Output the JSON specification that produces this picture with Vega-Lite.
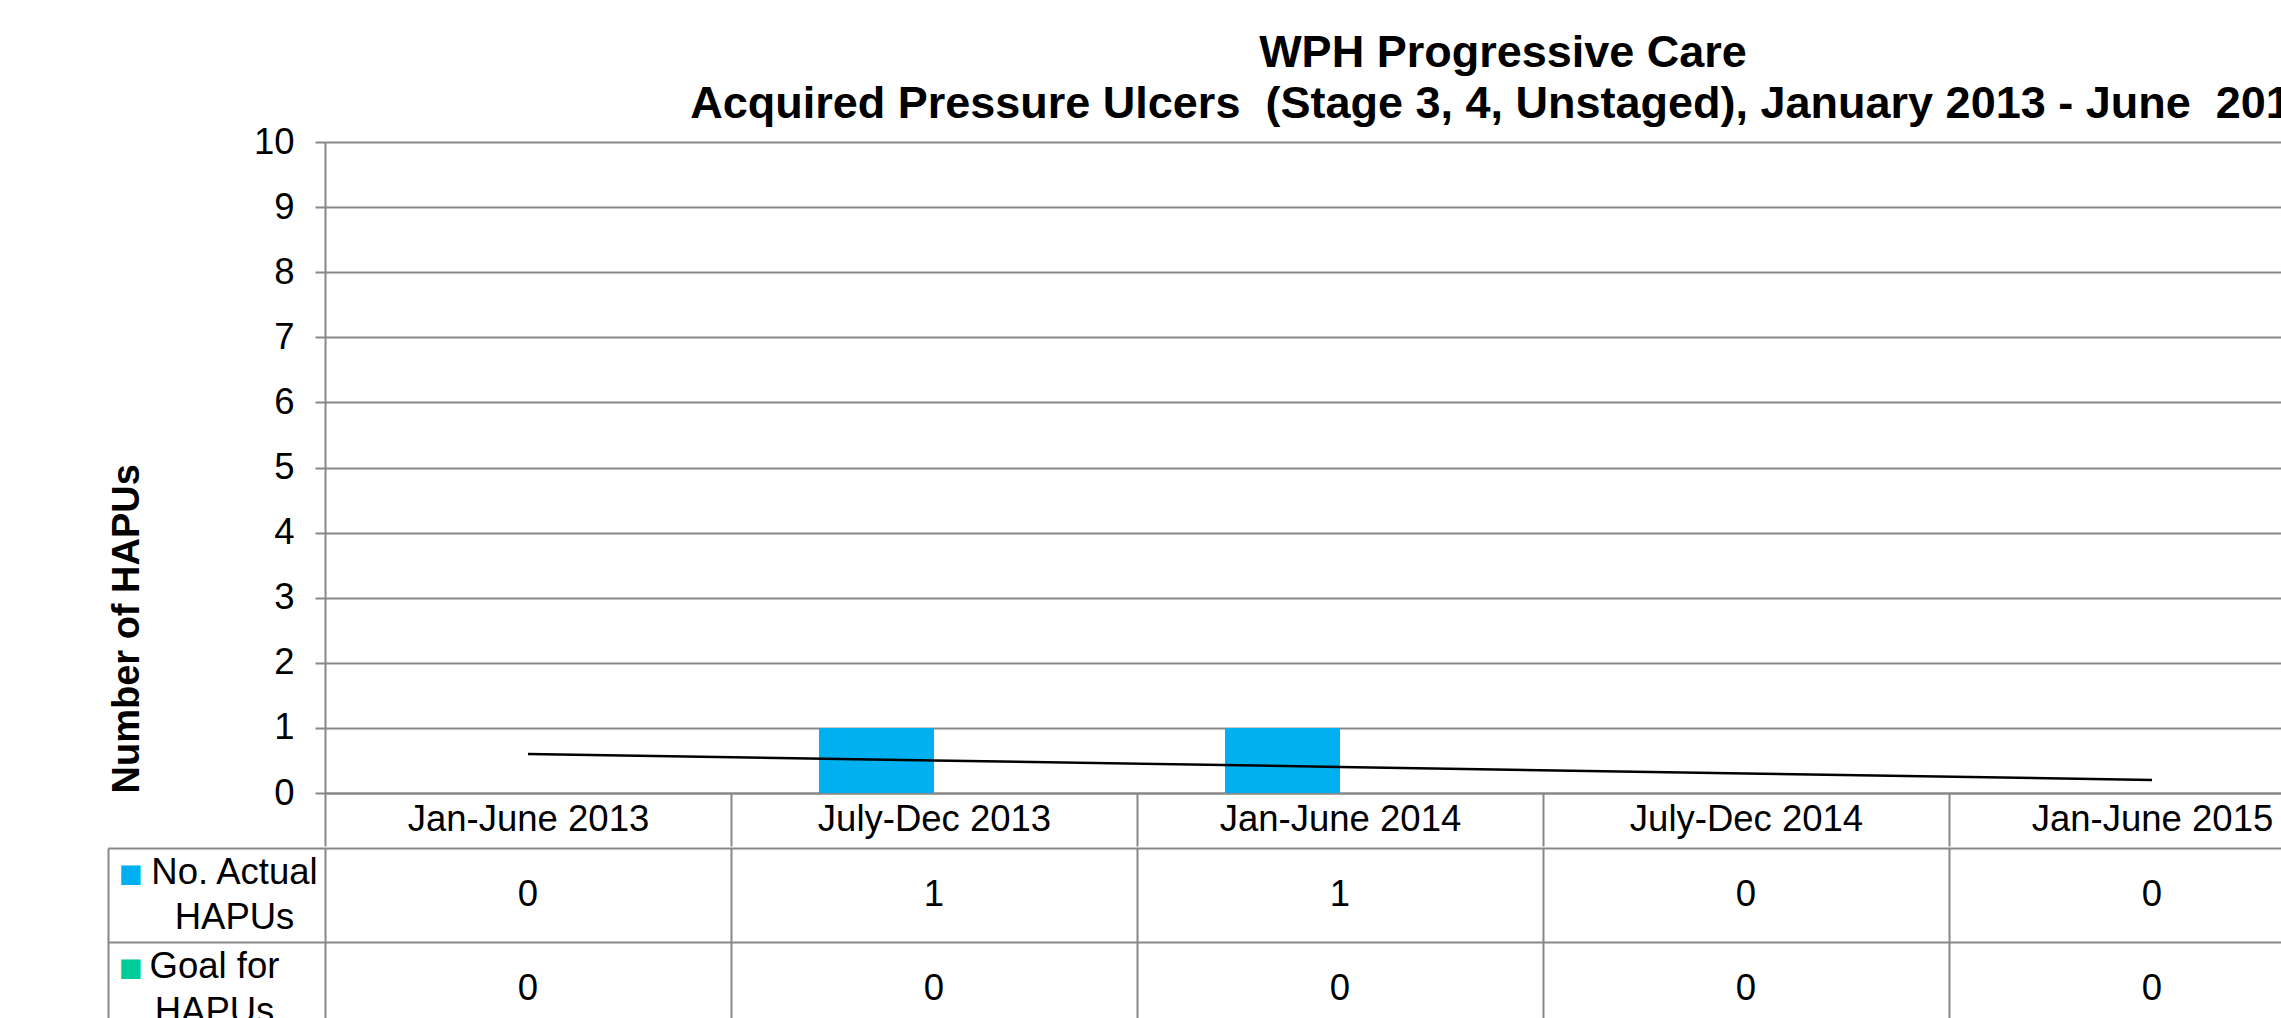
{
  "$schema": "https://vega.github.io/schema/vega-lite/v6.json",
  "background": "white",
  "padding": {"left": 107, "top": 31, "right": 0, "bottom": 0},
  "spacing": 0,
  "config": {
    "view": {"stroke": null},
    "font": "Liberation Sans"
  },
  "datasets": {
    "hapus": [
      {"period": "Jan-June 2013", "series": "No. Actual HAPUs", "value": 0},
      {"period": "July-Dec 2013", "series": "No. Actual HAPUs", "value": 1},
      {"period": "Jan-June 2014", "series": "No. Actual HAPUs", "value": 1},
      {"period": "July-Dec 2014", "series": "No. Actual HAPUs", "value": 0},
      {"period": "Jan-June 2015", "series": "No. Actual HAPUs", "value": 0},
      {"period": "Jan-June 2013", "series": "Goal for HAPUs", "value": 0},
      {"period": "July-Dec 2013", "series": "Goal for HAPUs", "value": 0},
      {"period": "Jan-June 2014", "series": "Goal for HAPUs", "value": 0},
      {"period": "July-Dec 2014", "series": "Goal for HAPUs", "value": 0},
      {"period": "Jan-June 2015", "series": "Goal for HAPUs", "value": 0}
    ],
    "trend": [
      {"period": "Jan-June 2013", "trend": 0.6},
      {"period": "July-Dec 2013", "trend": 0.5},
      {"period": "Jan-June 2014", "trend": 0.4},
      {"period": "July-Dec 2014", "trend": 0.3},
      {"period": "Jan-June 2015", "trend": 0.2}
    ]
  },
  "vconcat": [
    {
      "width": 2030,
      "height": 651,
      "title": {
        "text": ["WPH Progressive Care", "Acquired Pressure Ulcers \u00a0(Stage 3, 4, Unstaged), January 2013 - June \u00a02015"],
        "fontSize": 45,
        "fontWeight": "bold",
        "lineHeight": 51,
        "anchor": "middle",
        "dx": 163,
        "offset": -3,
        "color": "black",
        "font": "Liberation Sans"
      },
      "layer": [
        {
          "data": {"name": "hapus"},
          "mark": {"type": "bar"},
          "encoding": {
            "x": {
              "field": "period", "type": "nominal",
              "sort": ["Jan-June 2013", "July-Dec 2013", "Jan-June 2014", "July-Dec 2014", "Jan-June 2015"],
              "scale": {"paddingInner": 0, "paddingOuter": 0},
              "axis": {
                "title": null, "labelAngle": 0, "labelFontSize": 36.5, "labelColor": "black",
                "labelLimit": 0, "tickBand": "extent", "tickSize": 53, "tickColor": "#878787",
                "tickWidth": 2, "domainColor": "#878787", "domainWidth": 2,
                "labelPadding": -27, "labelBaseline": "middle", "grid": false
              }
            },
            "xOffset": {
              "field": "series", "type": "nominal",
              "sort": ["No. Actual HAPUs", "Goal for HAPUs"],
              "scale": {"paddingInner": 0, "paddingOuter": 0.765}
            },
            "y": {
              "field": "value", "type": "quantitative",
              "scale": {"domain": [0, 10]},
              "axis": {
                "title": "Number of HAPUs", "titleFontSize": 38, "titleFontWeight": "bold",
                "titleColor": "black", "titleAnchor": "start", "titlePadding": 107,
                "values": [0, 1, 2, 3, 4, 5, 6, 7, 8, 9, 10], "format": "d",
                "grid": true, "gridColor": "#878787", "gridWidth": 2,
                "domainColor": "#878787", "domainWidth": 2,
                "tickColor": "#878787", "tickWidth": 2, "tickSize": 10,
                "labelFontSize": 36.5, "labelColor": "black", "labelPadding": 21
              }
            },
            "color": {
              "field": "series", "type": "nominal",
              "scale": {"domain": ["No. Actual HAPUs", "Goal for HAPUs"], "range": ["#00B0F0", "#00CC99"]},
              "legend": null
            }
          }
        },
        {
          "data": {"name": "trend"},
          "mark": {"type": "line", "color": "black", "strokeWidth": 2.5},
          "encoding": {
            "x": {
              "field": "period", "type": "nominal",
              "sort": ["Jan-June 2013", "July-Dec 2013", "Jan-June 2014", "July-Dec 2014", "Jan-June 2015"]
            },
            "y": {"field": "trend", "type": "quantitative", "axis": {"title": "Number of HAPUs"}}
          }
        }
      ]
    },
    {
      "width": 2030,
      "height": 188,
      "data": {"name": "hapus"},
      "resolve": {"scale": {"y": "independent"}, "axis": {"y": "independent"}},
      "layer": [
        {
          "mark": {"type": "text", "fontSize": 36.5, "color": "black"},
          "encoding": {
            "x": {
              "field": "period", "type": "nominal",
              "sort": ["Jan-June 2013", "July-Dec 2013", "Jan-June 2014", "July-Dec 2014", "Jan-June 2015"],
              "scale": {"paddingInner": 0, "paddingOuter": 0},
              "axis": {
                "title": null, "labels": false, "ticks": false, "domain": false,
                "grid": true, "tickBand": "extent", "gridColor": "#878787", "gridWidth": 2
              }
            },
            "y": {
              "field": "series", "type": "nominal",
              "sort": ["No. Actual HAPUs", "Goal for HAPUs"],
              "scale": {"paddingInner": 0, "paddingOuter": 0},
              "axis": {
                "title": null, "orient": "left", "labels": false,
                "grid": true, "tickBand": "extent", "gridColor": "#878787", "gridWidth": 2,
                "offset": 217, "domainColor": "#878787", "domainWidth": 2,
                "tickSize": -217, "tickColor": "#878787", "tickWidth": 2
              }
            },
            "text": {"field": "value", "type": "quantitative"}
          }
        },
        {
          "mark": {"type": "text", "fontSize": 36.5, "opacity": 0},
          "encoding": {
            "x": {
              "field": "period", "type": "nominal",
              "sort": ["Jan-June 2013", "July-Dec 2013", "Jan-June 2014", "July-Dec 2014", "Jan-June 2015"]
            },
            "y": {
              "field": "series", "type": "nominal",
              "sort": ["No. Actual HAPUs", "Goal for HAPUs"],
              "scale": {"paddingInner": 0, "paddingOuter": 0},
              "axis": {
                "title": null, "orient": "left", "domain": false, "ticks": false, "tickSize": 0,
                "grid": false, "labelExpr": "'■'", "labelFont": "Liberation Sans",
                "labelColor": {"condition": {"test": "datum.value == 'No. Actual HAPUs'", "value": "#00B0F0"}, "value": "#00CC99"},
                "labelFontSize": 40, "labelAlign": "center", "labelBaseline": "middle",
                "labelPadding": 195, "labelOffset": -21
              }
            },
            "text": {"field": "value", "type": "quantitative"}
          }
        },
        {
          "mark": {"type": "text", "fontSize": 36.5, "opacity": 0},
          "encoding": {
            "x": {
              "field": "period", "type": "nominal",
              "sort": ["Jan-June 2013", "July-Dec 2013", "Jan-June 2014", "July-Dec 2014", "Jan-June 2015"]
            },
            "y": {
              "field": "series", "type": "nominal",
              "sort": ["No. Actual HAPUs", "Goal for HAPUs"],
              "scale": {"paddingInner": 0, "paddingOuter": 0},
              "axis": {
                "title": null, "orient": "left", "domain": false, "ticks": false, "tickSize": 0,
                "grid": false,
                "labelAlign": "center", "labelBaseline": "middle", "labelFontSize": 36.5,
                "labelColor": "black", "labelLineHeight": 45, "labelLimit": 0, "labelOffset": -22.5,
                "labelExpr": "datum.label == 'No. Actual HAPUs' ? ['No. Actual', 'HAPUs'] : ''",
                "labelPadding": 91
              }
            },
            "text": {"field": "value", "type": "quantitative"}
          }
        },
        {
          "mark": {"type": "text", "fontSize": 36.5, "opacity": 0},
          "encoding": {
            "x": {
              "field": "period", "type": "nominal",
              "sort": ["Jan-June 2013", "July-Dec 2013", "Jan-June 2014", "July-Dec 2014", "Jan-June 2015"]
            },
            "y": {
              "field": "series", "type": "nominal",
              "sort": ["No. Actual HAPUs", "Goal for HAPUs"],
              "scale": {"paddingInner": 0, "paddingOuter": 0},
              "axis": {
                "title": null, "orient": "left", "domain": false, "ticks": false, "tickSize": 0,
                "grid": false,
                "labelAlign": "center", "labelBaseline": "middle", "labelFontSize": 36.5,
                "labelColor": "black", "labelLineHeight": 45, "labelLimit": 0, "labelOffset": -22.5,
                "labelExpr": "datum.label == 'Goal for HAPUs' ? ['Goal for', 'HAPUs'] : ''",
                "labelPadding": 111
              }
            },
            "text": {"field": "value", "type": "quantitative"}
          }
        }
      ]
    }
  ]
}
